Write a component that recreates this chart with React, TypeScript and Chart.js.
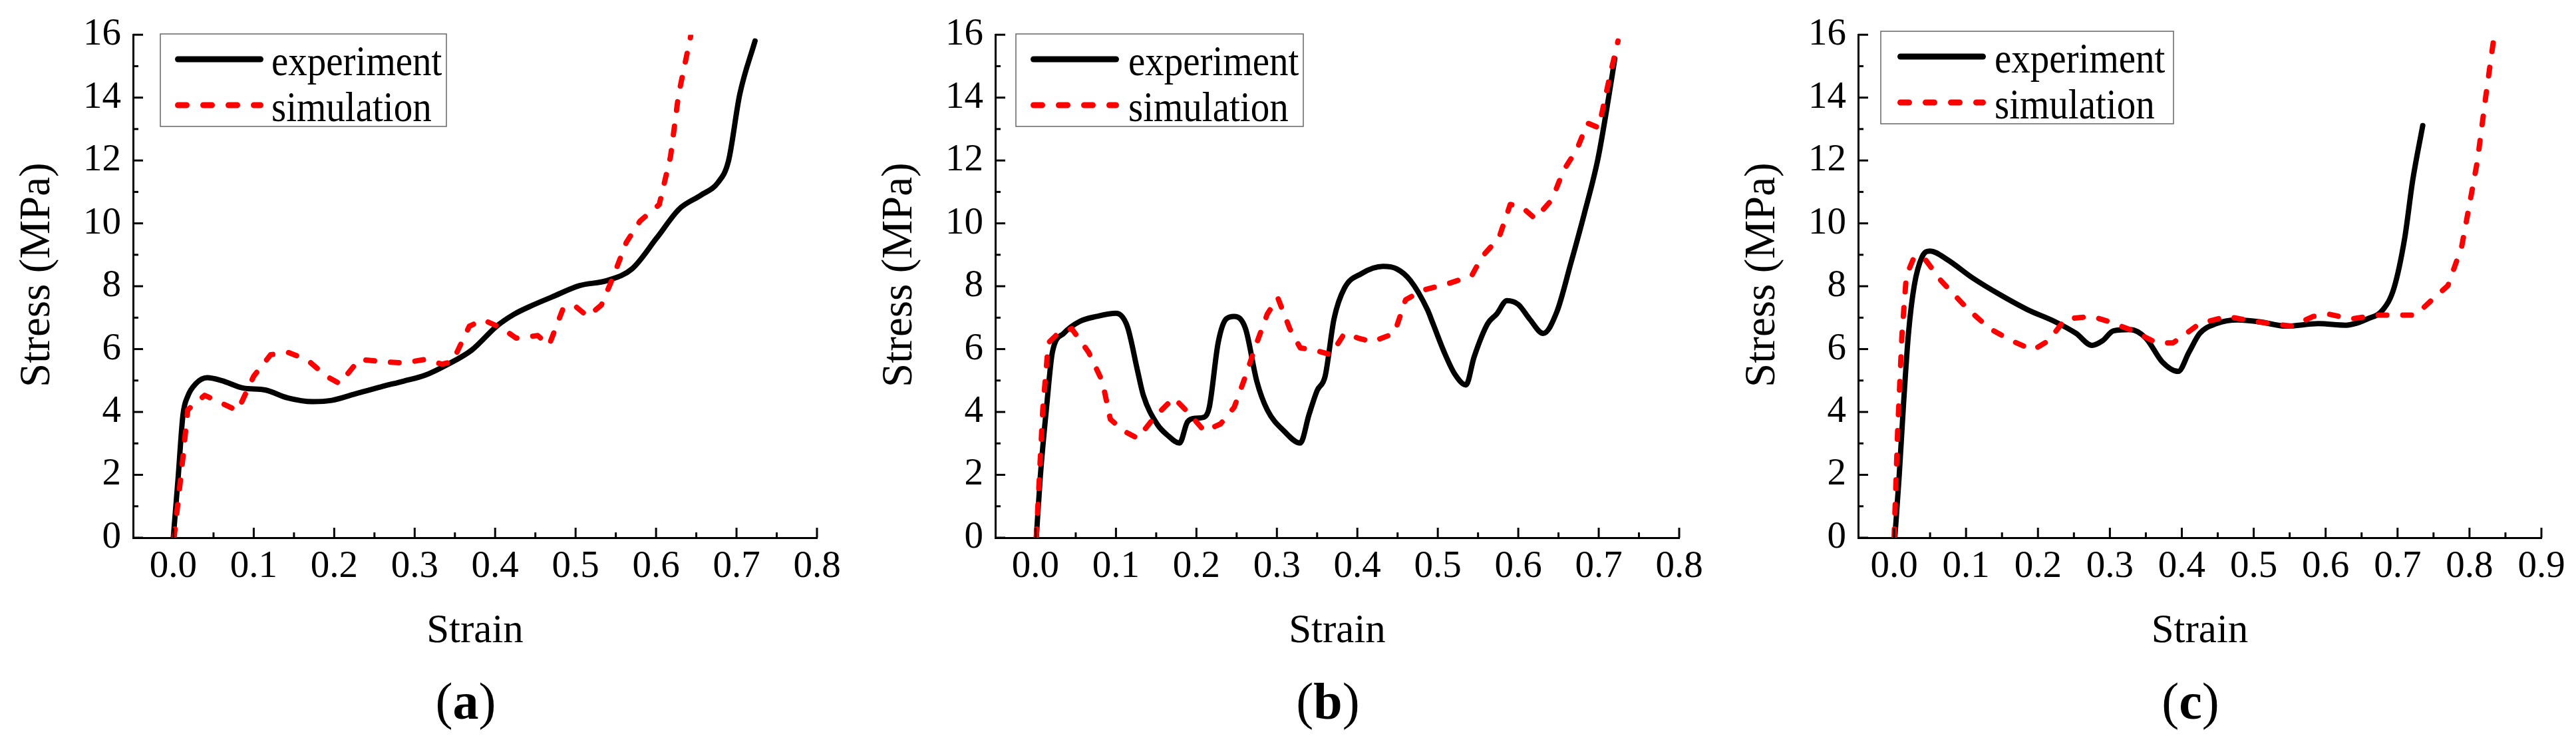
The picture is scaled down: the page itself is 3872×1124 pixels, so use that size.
import React, { useEffect, useRef } from 'react';
import { Chart, registerables } from 'chart.js';

Chart.register(...registerables);

const FONT = '"Liberation Serif", "Times New Roman", serif';

// ---------- Panel (a) ----------
const A_EXP_X = [0.0, 0.006, 0.012, 0.018, 0.028, 0.042, 0.06, 0.087, 0.114, 0.142, 0.173, 0.197, 0.224, 0.258, 0.286, 0.313, 0.34, 0.371, 0.402, 0.423, 0.447, 0.47, 0.505, 0.539, 0.57, 0.601, 0.629, 0.656, 0.677, 0.69, 0.704, 0.723];
const A_EXP_Y = [0.0, 1.9, 3.9, 4.5, 4.9, 5.09, 5.0, 4.76, 4.7, 4.45, 4.33, 4.37, 4.56, 4.8, 4.98, 5.17, 5.5, 5.97, 6.73, 7.1, 7.4, 7.65, 8.02, 8.18, 8.55, 9.54, 10.46, 10.9, 11.3, 11.98, 14.1, 15.8];
const A_SIM_X = [0.001, 0.012, 0.018, 0.039, 0.08, 0.1, 0.121, 0.142, 0.166, 0.19, 0.207, 0.231, 0.265, 0.286, 0.313, 0.334, 0.347, 0.368, 0.385, 0.409, 0.426, 0.453, 0.467, 0.484, 0.498, 0.515, 0.532, 0.546, 0.563, 0.58, 0.604, 0.618, 0.628, 0.643];
const A_SIM_Y = [0.0, 2.55, 4.07, 4.53, 4.04, 5.14, 5.82, 5.9, 5.67, 5.14, 4.9, 5.67, 5.59, 5.56, 5.67, 5.52, 5.6, 6.73, 6.93, 6.66, 6.35, 6.43, 6.12, 7.26, 7.4, 7.04, 7.4, 8.25, 9.39, 10.07, 10.6, 12.13, 14.1, 15.95];

// ---------- Panel (b) ----------
const B_EXP_X = [0.001, 0.006, 0.014, 0.021, 0.035, 0.055, 0.076, 0.1, 0.114, 0.127, 0.134, 0.151, 0.165, 0.179, 0.189, 0.199, 0.21, 0.216, 0.227, 0.237, 0.247, 0.261, 0.275, 0.288, 0.309, 0.329, 0.34, 0.35, 0.36, 0.371, 0.384, 0.405, 0.432, 0.449, 0.466, 0.487, 0.494, 0.508, 0.521, 0.535, 0.545, 0.562, 0.573, 0.586, 0.6, 0.614, 0.631, 0.648, 0.665, 0.682, 0.699, 0.71, 0.72];
const B_EXP_Y = [0.0, 1.95, 4.22, 5.9, 6.5, 6.88, 7.04, 7.14, 6.73, 5.29, 4.53, 3.62, 3.24, 3.01, 3.69, 3.8, 3.84, 4.15, 6.2, 6.96, 7.04, 6.65, 4.98, 4.07, 3.39, 3.01, 3.92, 4.68, 5.14, 6.96, 7.94, 8.4, 8.63, 8.55, 8.18, 7.26, 6.81, 5.9, 5.21, 4.86, 5.74, 6.81, 7.11, 7.54, 7.42, 6.96, 6.5, 7.19, 8.7, 10.3, 12.05, 13.64, 15.24];
const B_SIM_X = [0.001, 0.009, 0.016, 0.028, 0.045, 0.066, 0.083, 0.093, 0.11, 0.127, 0.148, 0.172, 0.192, 0.21, 0.23, 0.247, 0.261, 0.275, 0.288, 0.301, 0.316, 0.329, 0.347, 0.367, 0.384, 0.401, 0.418, 0.446, 0.46, 0.481, 0.515, 0.542, 0.555, 0.576, 0.59, 0.604, 0.621, 0.642, 0.656, 0.673, 0.686, 0.7, 0.714, 0.724];
const B_SIM_Y = [0.0, 4.07, 6.2, 6.5, 6.65, 5.9, 4.98, 3.77, 3.39, 3.16, 3.84, 4.45, 3.92, 3.39, 3.62, 4.15, 5.14, 6.2, 7.11, 7.64, 6.65, 6.04, 5.97, 5.82, 6.5, 6.35, 6.23, 6.5, 7.57, 7.87, 8.1, 8.33, 8.94, 9.54, 10.6, 10.53, 10.15, 10.76, 11.67, 12.36, 13.19, 13.04, 14.71, 15.8];

// ---------- Panel (c) ----------
const C_EXP_X = [0.001, 0.007, 0.013, 0.02, 0.028, 0.039, 0.05, 0.073, 0.11, 0.148, 0.185, 0.223, 0.253, 0.275, 0.29, 0.305, 0.328, 0.35, 0.373, 0.395, 0.41, 0.425, 0.448, 0.478, 0.508, 0.545, 0.59, 0.628, 0.658, 0.68, 0.695, 0.71, 0.721, 0.735];
const C_EXP_Y = [0.0, 1.95, 4.22, 6.5, 8.02, 8.94, 9.12, 8.86, 8.25, 7.72, 7.26, 6.88, 6.5, 6.12, 6.27, 6.58, 6.62, 6.35, 5.59, 5.29, 5.9, 6.5, 6.81, 6.93, 6.87, 6.73, 6.81, 6.76, 6.96, 7.26, 7.94, 9.54, 11.36, 13.11];
const C_SIM_X = [0.0, 0.005, 0.011, 0.017, 0.028, 0.043, 0.065, 0.103, 0.133, 0.163, 0.193, 0.215, 0.238, 0.275, 0.298, 0.328, 0.365, 0.388, 0.425, 0.463, 0.5, 0.553, 0.583, 0.605, 0.635, 0.673, 0.725, 0.748, 0.77, 0.789, 0.8, 0.811, 0.823, 0.834];
const C_SIM_Y = [0.0, 3.46, 6.5, 8.33, 8.94, 8.86, 8.18, 7.26, 6.65, 6.27, 5.97, 6.27, 6.96, 7.04, 6.88, 6.62, 6.2, 6.2, 6.81, 7.04, 6.88, 6.73, 7.04, 7.11, 6.96, 7.08, 7.08, 7.57, 8.02, 9.24, 10.6, 11.98, 14.1, 15.92];

// ---------- Axes / labels ----------
const X_TICKS_AB = [0.0, 0.1, 0.2, 0.3, 0.4, 0.5, 0.6, 0.7, 0.8];
const X_TICKS_C = [0.0, 0.1, 0.2, 0.3, 0.4, 0.5, 0.6, 0.7, 0.8, 0.9];
const Y_TICKS = [0, 2, 4, 6, 8, 10, 12, 14, 16];
const SERIES_LABELS = ['experiment', 'simulation'];
const X_TITLE = 'Strain';
const Y_TITLE = 'Stress (MPa)';

const pts = (xs: number[], ys: number[]) => xs.map((x, i) => ({ x, y: ys[i] }));

type PanelProps = {
  expX: number[]; expY: number[]; simX: number[]; simY: number[];
  xTicks: number[]; xMax: number; caption: string;
  width: number; left: number;
  legendDx: number; legendTop: number; legendW: number; sampleDx: number; textDx: number;
};

const AXIS_LEFT = 200;
const AXIS_RIGHT = 1228;
const AXIS_TOP = 52;
const AXIS_BOTTOM = 808;
const H = 1124;
const Y_AXIS_W = 120;
const X_AXIS_H = 100;

function fontsReady(): Promise<unknown> {
  const d: any = document as any;
  if (!d.fonts || !d.fonts.load) return Promise.resolve();
  return Promise.all([
    d.fonts.load('56px "Liberation Serif"'),
    d.fonts.load('bold 56px "Liberation Serif"'),
  ]).catch(() => undefined);
}

function Panel(p: PanelProps) {
  const ref = useRef<HTMLCanvasElement | null>(null);
  useEffect(() => {
    const canvas = ref.current;
    if (!canvas) return;
    let chart: Chart | null = null;
    let cancelled = false;
    const right = Math.min(AXIS_RIGHT, p.width - 52);
    const deco = {
      id: 'deco',
      afterDraw(ch: any) {
        const ctx: CanvasRenderingContext2D = ch.ctx;
        const ca = ch.chartArea;
        const xs = ch.scales.x;
        const ys = ch.scales.y;
        ctx.save();
        ctx.strokeStyle = '#000';
        ctx.lineWidth = 3;
        ctx.lineCap = 'butt';
        const seg = (x1: number, y1: number, x2: number, y2: number) => {
          ctx.beginPath(); ctx.moveTo(x1, y1); ctx.lineTo(x2, y2); ctx.stroke();
        };
        p.xTicks.forEach((v, i) => {
          const px = xs.getPixelForValue(v);
          seg(px, ca.bottom, px, ca.bottom - 15);
          if (i < p.xTicks.length - 1) {
            const m = xs.getPixelForValue((v + p.xTicks[i + 1]) / 2);
            seg(m, ca.bottom, m, ca.bottom - 8);
          }
        });
        Y_TICKS.forEach((v, i) => {
          const py = ys.getPixelForValue(v);
          seg(ca.left, py, ca.left + 15, py);
          if (i < Y_TICKS.length - 1) {
            const m = ys.getPixelForValue((v + Y_TICKS[i + 1]) / 2);
            seg(ca.left, m, ca.left + 8, m);
          }
        });
        // legend box
        const lx = ca.left + p.legendDx;
        const ly = p.legendTop;
        ctx.strokeStyle = '#666';
        ctx.lineWidth = 1.5;
        ctx.strokeRect(lx, ly, p.legendW, 139);
        const ds = ch.data.datasets;
        const rows = [ly + 38, ly + 107];
        ds.forEach((d: any, i: number) => {
          const y = rows[i];
          ctx.save();
          ctx.strokeStyle = d.borderColor;
          ctx.lineWidth = 9;
          ctx.lineCap = 'round';
          if (d.borderDash && d.borderDash.length) ctx.setLineDash([13, 25]);
          seg(lx + p.sampleDx + 4.5, y, lx + p.sampleDx + 128.5, y);
          ctx.restore();
          ctx.save();
          ctx.fillStyle = '#000';
          ctx.font = `57px ${FONT}`;
          ctx.textAlign = 'left';
          ctx.textBaseline = 'alphabetic';
          ctx.translate(lx + p.textDx, y + 24);
          ctx.scale(1, 1.1);
          ctx.fillText(d.label, 0, 0);
          ctx.restore();
        });
        // axis titles
        ctx.fillStyle = '#000';
        ctx.font = `61px ${FONT}`;
        ctx.textAlign = 'center';
        ctx.textBaseline = 'alphabetic';
        ctx.fillText(X_TITLE, (ca.left + ca.right) / 2, 965);
        ctx.save();
        ctx.translate(57, (ca.top + ca.bottom) / 2 - 17);
        ctx.rotate(-Math.PI / 2);
        ctx.font = `65px ${FONT}`;
        ctx.textBaseline = 'middle';
        ctx.fillText(Y_TITLE, 0, 0);
        ctx.restore();
        // caption
        const cx = (ca.left + ca.right) / 2 - 14;
        const reg = `78px ${FONT}`;
        const bold = `bold 78px ${FONT}`;
        ctx.textAlign = 'left';
        ctx.textBaseline = 'alphabetic';
        ctx.font = reg;
        const wL = ctx.measureText('(').width;
        const wR = ctx.measureText(')').width;
        ctx.font = bold;
        const wM = ctx.measureText(p.caption).width;
        let x0 = cx - (wL + wM + wR) / 2;
        ctx.font = reg; ctx.fillText('(', x0, 1080); x0 += wL;
        ctx.font = bold; ctx.fillText(p.caption, x0, 1080); x0 += wM;
        ctx.font = reg; ctx.fillText(')', x0, 1080);
        ctx.restore();
      },
    };

    const build = () => {
      if (cancelled) return;
      chart = new Chart(canvas, {
        type: 'line',
        data: {
          datasets: [
            {
              label: SERIES_LABELS[0],
              data: pts(p.expX, p.expY),
              borderColor: '#000000',
              borderWidth: 8,
              pointRadius: 0,
              cubicInterpolationMode: 'monotone',
              borderCapStyle: 'round',
              borderJoinStyle: 'round',
              fill: false,
              order: 1,
            },
            {
              label: SERIES_LABELS[1],
              data: pts(p.simX, p.simY),
              borderColor: '#ff0000',
              borderWidth: 8,
              borderDash: [13, 24],
              borderCapStyle: 'round',
              borderJoinStyle: 'round',
              pointRadius: 0,
              tension: 0,
              fill: false,
              order: 0,
            },
          ],
        },
        options: {
          responsive: false,
          animation: false,
          devicePixelRatio: 1,
          events: [],
          layout: {
            padding: {
              left: AXIS_LEFT - Y_AXIS_W,
              right: p.width - right,
              top: AXIS_TOP,
              bottom: H - AXIS_BOTTOM - X_AXIS_H,
            },
          },
          plugins: { legend: { display: false }, tooltip: { enabled: false }, title: { display: false } },
          scales: {
            x: {
              type: 'linear',
              min: -0.05,
              max: p.xMax,
              afterBuildTicks: (s: any) => { s.ticks = p.xTicks.map((v) => ({ value: v })); },
              afterFit: (s: any) => { s.height = X_AXIS_H; },
              grid: { display: false, drawTicks: false },
              border: { display: true, color: '#000', width: 3 },
              ticks: {
                padding: 10,
                color: '#000',
                autoSkip: false,
                maxRotation: 0,
                font: { family: FONT, size: 57 },
                callback: (v: any) => Number(v).toFixed(1),
              },
            },
            y: {
              type: 'linear',
              min: 0,
              max: 16,
              afterBuildTicks: (s: any) => { s.ticks = Y_TICKS.map((v) => ({ value: v })); },
              afterFit: (s: any) => { s.width = Y_AXIS_W; },
              grid: { display: false, drawTicks: false },
              border: { display: true, color: '#000', width: 3 },
              ticks: {
                padding: 18,
                color: '#000',
                font: { family: FONT, size: 57 },
                callback: (v: any) => String(v),
              },
            },
          },
        },
        plugins: [deco],
      } as any);
    };
    fontsReady().then(build);
    return () => {
      cancelled = true;
      if (chart) chart.destroy();
    };
  }, []);
  return (
    <canvas
      ref={ref}
      width={p.width}
      height={H}
      style={{ position: 'absolute', left: p.left, top: 0, width: p.width, height: H, display: 'block' }}
    />
  );
}

export default function App() {
  return (
    <div style={{ position: 'absolute', left: 0, top: 0, width: 3872, height: 1124, background: '#fff', overflow: 'hidden', fontFamily: FONT }}>
      <Panel expX={A_EXP_X} expY={A_EXP_Y} simX={A_SIM_X} simY={A_SIM_Y} xTicks={X_TICKS_AB} xMax={0.8} caption="a"
        width={1296} left={0} legendDx={41} legendTop={51} legendW={430} sampleDx={22} textDx={167} />
      <Panel expX={B_EXP_X} expY={B_EXP_Y} simX={B_SIM_X} simY={B_SIM_Y} xTicks={X_TICKS_AB} xMax={0.8} caption="b"
        width={1297} left={1296} legendDx={31} legendTop={51} legendW={432} sampleDx={22} textDx={169} />
      <Panel expX={C_EXP_X} expY={C_EXP_Y} simX={C_SIM_X} simY={C_SIM_Y} xTicks={X_TICKS_C} xMax={0.9} caption="c"
        width={1279} left={2593} legendDx={34} legendTop={47} legendW={440} sampleDx={25} textDx={171} />
    </div>
  );
}
